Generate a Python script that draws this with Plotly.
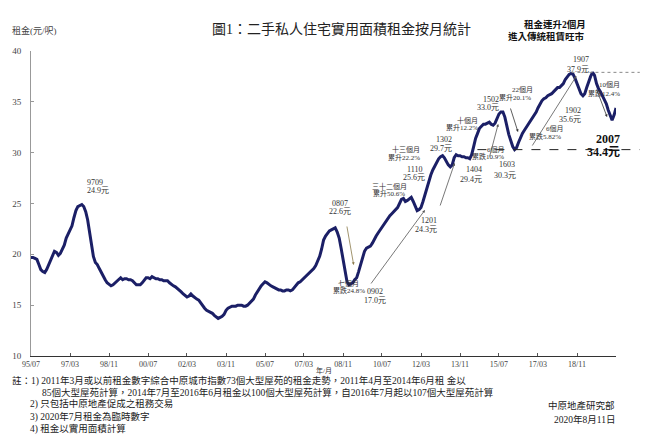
import pandas as pd
import plotly.graph_objects as go

# monthly rent (HK$ per sq ft, saleable area), 1995/07 - 2020/07
rent_1995 = [19.7, 19.7, 19.6, 19.5, 19.0, 18.5]
rent_1996 = [18.3, 18.2, 18.5, 19.0, 19.5, 19.9, 20.3, 20.2, 19.9, 20.1, 20.5, 20.9]
rent_1997 = [21.6, 22.0, 22.5, 22.8, 23.6, 24.3, 24.7, 24.8, 24.9, 24.7, 24.2, 23.4]
rent_1998 = [22.0, 20.8, 19.8, 19.2, 19.0, 18.6, 18.2, 17.8, 17.5, 17.2, 17.0, 16.9]
rent_1999 = [17.0, 17.2, 17.4, 17.6, 17.7, 17.5, 17.6, 17.6, 17.5, 17.5, 17.4, 17.2]
rent_2000 = [17.0, 17.0, 17.0, 17.2, 17.5, 17.7, 17.7, 17.6, 17.8, 17.7, 17.6, 17.6]
rent_2001 = [17.5, 17.5, 17.4, 17.4, 17.4, 17.2, 17.0, 16.9, 16.8, 16.6, 16.5, 16.3]
rent_2002 = [16.1, 15.9, 15.8, 15.9, 16.1, 15.9, 15.7, 15.6, 15.5, 15.2, 15.0, 14.7]
rent_2003 = [14.5, 14.4, 14.3, 14.2, 14.0, 13.8, 13.7, 13.8, 13.9, 14.1, 14.5, 14.7]
rent_2004 = [14.8, 14.9, 14.9, 14.9, 15.0, 15.0, 15.0, 14.9, 14.9, 15.0, 15.2, 15.3]
rent_2005 = [15.6, 16.0, 16.3, 16.6, 16.9, 17.1, 17.3, 17.2, 17.0, 16.9, 16.8, 16.7]
rent_2006 = [16.6, 16.5, 16.5, 16.4, 16.4, 16.5, 16.5, 16.4, 16.5, 16.7, 17.0, 17.2]
rent_2007 = [17.3, 17.5, 17.7, 17.8, 18.0, 18.2, 18.4, 18.6, 18.9, 19.3, 19.8, 20.5]
rent_2008 = [21.4, 21.8, 22.1, 22.3, 22.4, 22.5, 22.6, 22.2, 21.6, 20.6, 19.4, 18.2]
rent_2009 = [17.3, 17.0, 17.1, 17.2, 17.5, 17.7, 18.3, 19.0, 19.7, 20.3, 20.6, 20.7]
rent_2010 = [20.8, 21.1, 21.5, 21.8, 22.1, 22.4, 22.7, 23.0, 23.3, 23.6, 23.8, 24.0]
rent_2011 = [24.2, 24.4, 24.6, 25.0, 25.4, 25.5, 25.2, 25.3, 25.5, 25.6, 25.2, 24.7]
rent_2012 = [24.3, 24.4, 24.6, 25.2, 25.9, 26.6, 27.3, 27.8, 28.3, 28.7, 29.0, 29.4]
rent_2013 = [29.6, 29.7, 29.5, 29.1, 28.8, 28.6, 28.8, 29.5, 29.8, 29.7, 29.7, 29.6]
rent_2014 = [29.6, 29.5, 29.5, 29.4, 29.8, 30.6, 31.4, 31.9, 32.4, 32.6, 32.8, 32.8]
rent_2015 = [32.9, 33.0, 32.8, 32.7, 32.9, 33.4, 33.8, 34.0, 34.0, 33.5, 32.6, 31.8]
rent_2016 = [31.2, 30.6, 30.3, 30.5, 31.0, 31.5, 31.9, 32.2, 32.5, 32.8, 33.1, 33.5]
rent_2017 = [33.8, 34.0, 34.4, 34.8, 35.1, 35.3, 35.4, 35.6, 35.7, 35.8, 36.0, 36.2]
rent_2018 = [36.4, 36.4, 36.6, 36.8, 37.2, 37.5, 37.7, 37.8, 37.7, 37.3, 36.8, 36.2]
rent_2019 = [35.8, 35.6, 35.8, 36.4, 37.0, 37.5, 37.9, 37.6, 36.8, 36.3, 36.0, 35.6]
rent_2020 = [35.3, 34.8, 34.2, 33.6, 33.2, 33.7, 34.4]

rent = (rent_1995 + rent_1996 + rent_1997 + rent_1998 + rent_1999 + rent_2000
        + rent_2001 + rent_2002 + rent_2003 + rent_2004 + rent_2005 + rent_2006
        + rent_2007 + rent_2008 + rent_2009 + rent_2010 + rent_2011 + rent_2012
        + rent_2013 + rent_2014 + rent_2015 + rent_2016 + rent_2017 + rent_2018
        + rent_2019 + rent_2020)
months = pd.date_range("1995-07-01", periods=len(rent), freq="MS")

tick_labels = ["95/07", "97/03", "98/11", "00/07", "02/03", "03/11", "05/07", "07/03",
               "08/11", "10/07", "12/03", "13/11", "15/07", "17/03", "18/11"]
tick_dates = pd.date_range("1995-07-01", periods=len(tick_labels), freq="20MS")

trough_level = 30.3   # 1603
peak_level = 37.9     # 1907

notes = [
    "註：1) 2011年3月或以前租金數字綜合中原城市指數73個大型屋苑的租金走勢，2011年4月至2014年6月租 金以",
    "85個大型屋苑計算，2014年7月至2016年6月租金以100個大型屋苑計算，自2016年7月起以107個大型屋苑計算",
    "2) 只包括中原地產促成之租務交易",
    "3) 2020年7月租金為臨時數字",
    "4) 租金以實用面積計算",
]

W, H = 651, 442
L, R, T, B = 25, 35, 51, 86
FONT = "Liberation Serif, Noto Sans CJK TC"
NAVY = "#1b1f66"


def px(x):
    return (x - L) / (W - L - R)


def py(y):
    return (H - B - y) / (H - T - B)


fig = go.Figure()
fig.add_trace(go.Scatter(x=months, y=rent, mode="lines",
                         line={"color": NAVY, "width": 3}, showlegend=False))

# dashed reference levels
fig.add_shape(type="line", xref="paper", yref="y", x0=px(476), x1=px(640),
              y0=trough_level, y1=trough_level,
              line={"color": "#222", "width": 1, "dash": "dash"})
fig.add_shape(type="line", xref="paper", yref="y", x0=px(571), x1=px(640),
              y0=peak_level, y1=peak_level,
              line={"color": "#888", "width": 1, "dash": "dot"})

labels = [
    ("9709", 80, 182, 8), ("24.9元", 80, 190, 8),
    ("0807", 337, 203, 8), ("22.6元", 337, 211, 8),
    ("七個月", 346, 290, 7), ("累跌24.8%", 346, 297, 7),
    ("0902", 373, 298, 8), ("17.0元", 373, 307, 8),
    ("三十二個月", 387, 186, 7), ("累升50.6%", 387, 193, 7),
    ("1110", 412, 169, 8), ("25.6元", 412, 177, 8),
    ("1201", 437, 220, 8), ("24.3元", 437, 229, 8),
    ("十三個月", 420, 143, 7), ("累升22.2%", 420, 151, 7),
    ("1302", 452, 133, 8), ("29.7元", 452, 142, 8),
    ("1404", 483, 169, 8), ("29.4元", 483, 179, 8),
    ("十個月", 479, 114, 7), ("累升12.2%", 479, 121, 7),
    ("1502", 500, 93, 8), ("33.0元", 500, 101, 8),
    ("6個月", 506, 142.5, 7), ("累跌10.9%", 505, 149.5, 7),
    ("1603", 516, 164, 8), ("30.3元", 517, 175, 8),
    ("22個月", 534, 83, 7), ("累升20.1%", 532, 91, 7),
    ("6個月", 565, 122, 7), ("累跌5.82%", 562, 130, 7),
    ("1907", 591, 53, 8), ("37.9元", 591, 63, 8),
    ("1902", 583, 104, 8), ("35.6元", 583, 113, 8),
    ("10個月", 622, 78, 7), ("累跌12.4%", 622, 87, 7),
]
for text, x, y, size in labels:
    fig.add_annotation(text=text, xref="paper", yref="paper", x=px(x), y=py(y),
                       showarrow=False, font={"size": size, "color": "#333"})

for text, y in [("2007", 130), ("34.4元", 143)]:
    fig.add_annotation(text=f"<b>{text}</b>", xref="paper", yref="paper",
                       x=px(622), y=py(y), showarrow=False,
                       font={"size": 12, "color": "#111"})

arrows = [
    ((344, 225), (351, 265), "#8a7a4a"),
    ((368, 285), (423, 210), "#555"),
    ((438, 207), (453, 163), "#555"),
    ((488, 158), (497, 124), "#555"),
    ((509, 107), (517, 132), "#333"),
    ((531, 147), (576, 76), "#555"),
    ((596, 88), (607, 117), "#333"),
]
for (tx, ty), (hx, hy), color in arrows:
    fig.add_annotation(text="", xref="paper", yref="paper", x=px(hx), y=py(hy),
                       ax=tx - hx, ay=ty - hy, showarrow=True, arrowhead=2,
                       arrowsize=0.7, arrowwidth=0.8, arrowcolor=color, standoff=0)

# header texts
fig.add_annotation(text="圖1：二手私人住宅實用面積租金按月統計", xref="paper", yref="paper",
                   x=px(339), y=py(19), showarrow=False,
                   font={"size": 14, "color": "#222"})
fig.add_annotation(text="租金(元/呎)", xref="paper", yref="paper", x=px(4), y=py(23),
                   xanchor="left", showarrow=False, font={"size": 9, "color": "#444"})
fig.add_annotation(text="<b>租金連升2個月</b>", xref="paper", yref="paper",
                   x=px(588), y=py(17), showarrow=False, font={"size": 9.5, "color": "#111"})
fig.add_annotation(text="<b>進入傳統租賃旺市</b>", xref="paper", yref="paper",
                   x=px(587), y=py(29), showarrow=False, font={"size": 9.5, "color": "#111"})

fig.add_annotation(text="年/月", xref="paper", yref="paper", x=px(321), y=py(377),
                   showarrow=False, font={"size": 7, "color": "#333"})

# footnotes
note_pos = [(4, 389), (34, 400), (22, 412), (22, 424.5), (22, 436.5)]
for text, (x, y) in zip(notes, note_pos):
    fig.add_annotation(text=text, xref="paper", yref="paper", x=px(x), y=py(y),
                       xanchor="left", showarrow=False, font={"size": 9.5, "color": "#222"})
fig.add_annotation(text="中原地產研究部", xref="paper", yref="paper", x=px(617), y=py(413),
                   xanchor="right", showarrow=False, font={"size": 9.5, "color": "#222"})
fig.add_annotation(text="2020年8月11日", xref="paper", yref="paper", x=px(617), y=py(427),
                   xanchor="right", showarrow=False, font={"size": 9.5, "color": "#222"})

fig.update_layout(
    width=W, height=H,
    margin={"l": L, "r": R, "t": T, "b": B},
    paper_bgcolor="white", plot_bgcolor="white",
    font={"family": FONT, "color": "#333"},
    xaxis={
        "range": [months[0], months[-1]],
        "tickvals": list(tick_dates), "ticktext": tick_labels,
        "showgrid": False, "zeroline": False,
        "showline": True, "linecolor": "#333", "linewidth": 1,
        "ticks": "inside", "ticklen": 3, "tickcolor": "#555",
        "tickfont": {"size": 8, "color": "#444"},
        "ticklabelstandoff": 0,
    },
    yaxis={
        "range": [10, 40], "dtick": 5,
        "showgrid": False, "zeroline": False,
        "showline": True, "linecolor": "#999", "linewidth": 1,
        "ticks": "inside", "ticklen": 3, "tickcolor": "#999",
        "tickfont": {"size": 9, "color": "#444"},
        "ticklabelstandoff": 7,
    },
)

# drop the default page margin so the figure sits at the window's corner
fig.write_html("out.html", config={"displayModeBar": False},
               post_script="document.body.style.margin = '0';")
